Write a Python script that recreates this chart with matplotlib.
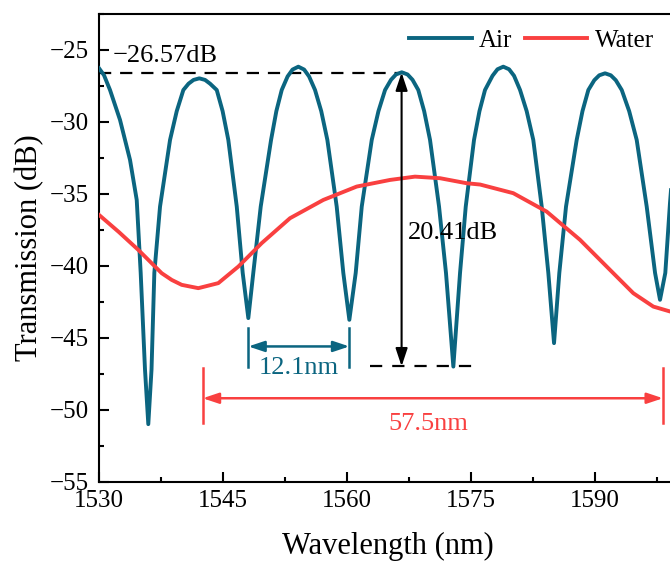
import numpy as np
import matplotlib
matplotlib.use("Agg")
import matplotlib.pyplot as plt
from matplotlib.ticker import MultipleLocator

plt.rcParams['font.family'] = ['Liberation Serif', 'DejaVu Serif']

# Air spectrum (wavelength nm, transmission dB)
air_wl = [1530.0, 1530.6, 1531.33, 1532.54, 1533.75, 1534.56, 1535.04, 1535.56, 1535.96,
          1536.35, 1536.69, 1537.38, 1538.59, 1539.4, 1540.2, 1540.83, 1541.43,
          1542.13, 1542.83, 1543.43, 1544.24, 1544.95, 1545.64, 1546.66, 1547.38,
          1548.06,
          1548.66, 1549.56, 1550.81, 1551.45, 1552.1, 1552.81, 1553.41, 1554.11,
          1554.81, 1555.41, 1556.13, 1556.88, 1557.62, 1558.75, 1559.55,
          1560.28,
          1561.05, 1561.78, 1562.99, 1563.8, 1564.6, 1565.32, 1565.92, 1566.62,
          1567.32, 1567.92, 1568.62, 1569.33, 1570.04, 1571.13, 1571.97,
          1572.86,
          1573.67, 1574.36, 1575.36, 1576.02, 1576.69, 1577.6, 1578.2, 1578.9,
          1579.6, 1580.2, 1580.93, 1581.73, 1582.53, 1583.55, 1584.35,
          1585.04,
          1585.68, 1586.49, 1587.78, 1588.48, 1589.19, 1589.91, 1590.51, 1591.21,
          1591.91, 1592.51, 1593.23, 1594.13, 1595.04, 1596.25, 1597.26,
          1597.86,
          1598.5, 1599.07, 1599.5]
air_db = [-26.27, -26.75, -27.78, -29.86, -32.64, -35.42, -40.49, -47.2, -51.0,
          -47.2, -40.49, -35.88, -31.25, -29.25, -27.78, -27.34, -27.08,
          -26.97, -27.08, -27.34, -27.78, -29.25, -31.25, -35.88, -40.49,
          -43.63,
          -40.49, -35.88, -31.25, -29.25, -27.78, -26.84, -26.36, -26.16,
          -26.36, -26.84, -27.78, -29.25, -31.25, -35.88, -40.49,
          -43.75,
          -40.49, -35.88, -31.25, -29.25, -27.78, -27.07, -26.70, -26.55,
          -26.70, -27.07, -27.78, -29.25, -31.25, -35.88, -40.49,
          -47.0,
          -40.49, -35.88, -31.25, -29.25, -27.78, -26.79, -26.34, -26.16,
          -26.34, -26.79, -27.78, -29.25, -31.25, -35.88, -40.49,
          -45.37,
          -40.49, -35.88, -31.25, -29.25, -27.78, -27.10, -26.76, -26.62,
          -26.76, -27.10, -27.78, -29.25, -31.25, -35.88, -40.49,
          -42.36,
          -40.49, -35.6, -32.5]

# Water spectrum
water_wl = [1530.0, 1532.4, 1534.75, 1537.58, 1538.8, 1540.0, 1542.01, 1544.43,
            1546.85, 1549.68, 1553.1, 1557.13, 1561.17, 1565.2, 1568.22, 1571.25,
            1574.48, 1576.1, 1580.11, 1584.15, 1588.18, 1592.21, 1594.63, 1597.05,
            1599.07, 1600.0]
water_db = [-36.46, -37.65, -38.89, -40.51, -40.98, -41.32, -41.55, -41.2,
            -40.05, -38.42, -36.69, -35.42, -34.49, -34.03, -33.8, -33.91,
            -34.26, -34.35, -34.95, -36.23, -38.19, -40.51, -41.9, -42.83,
            -43.17, -43.25]

# annotation values
peak_db = -26.57
depth_db = 20.41
fsr_air = (1548.06, 1560.28)
fsr_water = (1542.54, 1598.22)

air_color = '#0b6580'
water_color = '#f94040'

fig = plt.figure(figsize=(6.7, 5.65), dpi=100)
ax = fig.add_axes([0.1478, 0.1474, 0.8637, 0.8278])

ax.plot(air_wl, air_db, color=air_color, lw=2.8, label='Air', zorder=3)
ax.plot(water_wl, water_db, color=water_color, lw=2.8, label='Water', zorder=3)

# extinction ratio
dip_db = peak_db - depth_db
ax.plot([1530, 1567.0], [peak_db, peak_db], color='black', lw=1.6,
        linestyle=(0, (5.5, 4.0)))
ax.plot([1562.8, 1575.7], [dip_db, dip_db], color='black', lw=1.6,
        linestyle=(0, (5.5, 4.5)))
ax.annotate('', xy=(1566.6, peak_db), xytext=(1566.6, dip_db),
            arrowprops=dict(arrowstyle='<|-|>,head_length=0.6,head_width=0.2',
                            color='black', lw=1.5, mutation_scale=18,
                            shrinkA=0, shrinkB=0))
ax.text(1531.7, -25.42, '\u221226.57dB', fontsize=19, ha='left', va='center')
ax.text(1567.3, -37.69, '20.41dB', fontsize=19, ha='left', va='center')

# air FSR
for xv in fsr_air:
    ax.plot([xv, xv], [-44.3, -47.0], color=air_color, lw=1.8)
ax.annotate('', xy=(fsr_air[0], -45.6), xytext=(fsr_air[1], -45.6),
            arrowprops=dict(arrowstyle='<|-|>,head_length=0.6,head_width=0.2',
                            color=air_color, lw=1.8, mutation_scale=16,
                            shrinkA=0, shrinkB=0))
ax.text(sum(fsr_air) / 2, -47.1, '12.1nm', fontsize=19, color=air_color,
        ha='center', va='center')

# water FSR
for xv in fsr_water:
    ax.plot([xv, xv], [-47.1, -50.9], color=water_color, lw=1.8)
ax.annotate('', xy=(fsr_water[0], -49.2), xytext=(fsr_water[1], -49.2),
            arrowprops=dict(arrowstyle='<|-|>,head_length=0.6,head_width=0.2',
                            color=water_color, lw=1.8, mutation_scale=16,
                            shrinkA=0, shrinkB=0))
ax.text(1569.8, -51.0, '57.5nm', fontsize=19, color=water_color,
        ha='center', va='center')

ax.set_xlim(1530, 1600)
ax.set_ylim(-55, -22.5)
ax.xaxis.set_major_locator(MultipleLocator(15))
ax.xaxis.set_minor_locator(MultipleLocator(7.5))
ax.yaxis.set_major_locator(MultipleLocator(5))
ax.yaxis.set_minor_locator(MultipleLocator(2.5))
ax.tick_params(which='both', direction='in', width=1.5, labelsize=18)
ax.tick_params(which='major', length=7)
ax.tick_params(which='minor', length=3.5)
ax.tick_params(axis='x', pad=6)
ax.tick_params(axis='y', pad=7)
for s in ['left', 'bottom', 'top']:
    ax.spines[s].set_linewidth(1.5)
ax.spines['right'].set_visible(False)

ax.set_xlabel('Wavelength (nm)', fontsize=22)
ax.set_ylabel('Transmission (dB)', fontsize=22)
ax.xaxis.set_label_coords(0.5, -0.108)
ax.yaxis.set_label_coords(-0.095, 0.5)

ax.legend(loc='upper right', bbox_to_anchor=(0.985, 1.0), ncol=2, frameon=False,
          fontsize=18, handlelength=2.5, handletextpad=0.3, columnspacing=0.5,
          borderaxespad=0.2)

fig.savefig('out.png', dpi=100)
